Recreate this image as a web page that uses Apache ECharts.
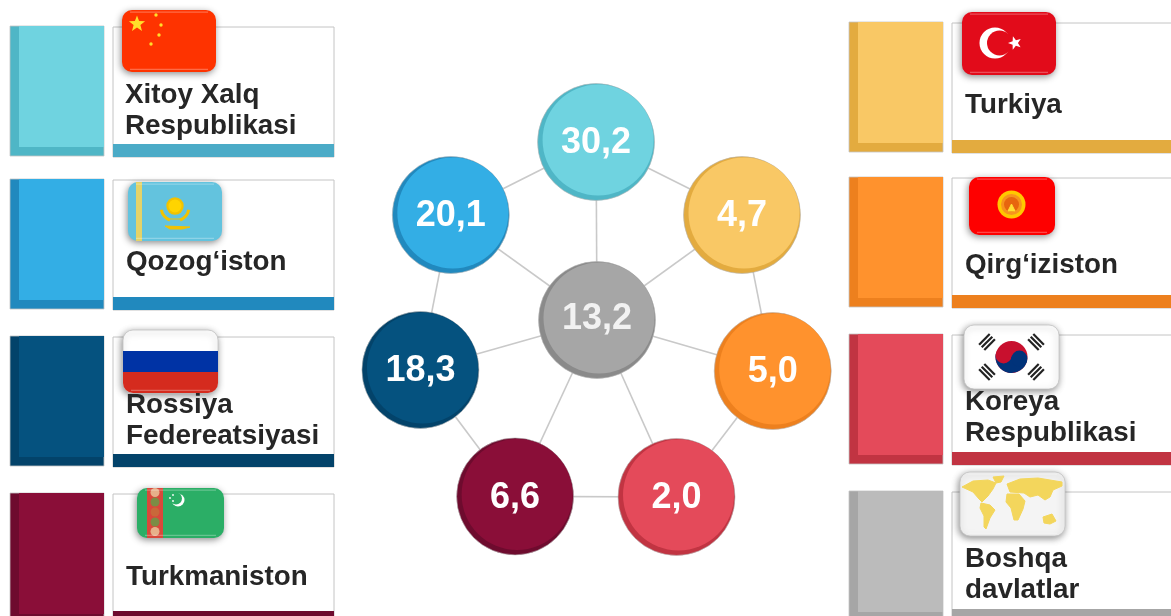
<!DOCTYPE html>
<html>
<head>
<meta charset="utf-8">
<style>
  html, body { margin: 0; padding: 0; background: #fff; }
  #chart { width: 1171px; height: 616px; }
</style>
<script src="https://cdn.jsdelivr.net/npm/echarts@6/dist/echarts.min.js"></script>
</head>
<body>
<div id="chart"></div>
<script>
// ring order, clockwise from the top
const countries = ["Xitoy Xalq\nRespublikasi", "Turkiya", "Qirg‘iziston", "Koreya\nRespublikasi", "Turkmaniston", "Rossiya\nFedereatsiyasi", "Qozog‘iston"];
const shares = [30.2, 4.7, 5.0, 2.0, 6.6, 18.3, 20.1];
const otherName = "Boshqa\ndavlatlar";
const otherShare = 13.2;

const faceColors = ["#6fd3e0", "#f9c865", "#ff922d", "#e44a5a", "#8a0e38", "#05527f", "#33aee5"];
const edgeColors = ["#4fb6c6", "#e3ab3f", "#ed801e", "#c13442", "#6e0b2e", "#03436a", "#2189be"];
const stripColors = ["#4babc7", "#e3ab3f", "#ed801e", "#c13442", "#6e0b2e", "#03436a", "#2189be"];

// where each circle sits on the polar scale (the ring is not quite regular)
const ringAngle = [359.7, 54.1, 106.2, 155.8, 204.9, 254.2, 305.7];
const ringRadius = [178, 179, 183, 194, 194.5, 183.5, 180];

const fmt = (v) => v.toFixed(1).replace(".", ",");
const ringCount = countries.length;

// legend cards: [block x, block y, card x, card width, text x, text centre y, flag x, y, w, h, flag name]
const cards = [
  [10, 26, 113, 221, 125, 111, 122, 10, 94, 62, "china"],
  [849, 22, 952, 240, 965, 105, 962, 12, 94, 63, "turkey"],
  [849, 177, 952, 240, 965, 265, 969, 177, 86, 58, "kyrgyz"],
  [849, 334, 952, 240, 965, 418, 964, 325, 95, 64, "korea"],
  [10, 493, 113, 221, 126, 577, 137, 488, 87, 50, "turkmen"],
  [10, 336, 113, 221, 126, 421, 123, 330, 95, 63, "russia"],
  [10, 179, 113, 221, 126, 262, 128, 182, 94, 59, "kazakh"],
];
const otherCard = [849, 491, 952, 240, 965, 575, 960, 472, 105, 64, "world"];

function rect(x, y, width, height, fill, extra) {
  return Object.assign({ type: "rect", shape: { x, y, width, height }, style: { fill } }, extra || {});
}
function circle(cx, cy, r, fill) {
  return { type: "circle", shape: { cx, cy, r }, style: { fill } };
}
function star(cx, cy, r, fill, rot) {
  const pts = [];
  for (let i = 0; i < 10; i++) {
    const a = (rot || 0) - Math.PI / 2 + (i * Math.PI) / 5;
    const rr = i % 2 ? r * 0.42 : r;
    pts.push([cx + rr * Math.cos(a), cy + rr * Math.sin(a)]);
  }
  return { type: "polygon", shape: { points: pts }, style: { fill } };
}
function poly(points, fill) {
  return { type: "polygon", shape: { points }, style: { fill, stroke: fill, lineWidth: 1, lineJoin: "round" } };
}
// one trigram of the Korean flag
function trigram(cx, cy, rot, dx, dy) {
  return [-1, 0, 1].map((k) => ({
    type: "rect",
    x: cx + k * dx,
    y: cy + k * dy,
    rotation: rot,
    shape: { x: -7.5, y: -1.1, width: 15, height: 2.2 },
    style: { fill: "#222" },
  }));
}

// flag art in local coordinates
const flagArt = {
  china: (w, h) => ({
    base: "#fe3300",
    parts: [
      star(15, 14, 8.5, "#ffdf2a"),
      circle(34, 5, 1.7, "#ffdf2a"), circle(39, 15, 1.7, "#ffdf2a"),
      circle(37, 25, 1.7, "#ffdf2a"), circle(29, 34, 1.7, "#ffdf2a"),
    ],
  }),
  turkey: (w, h) => ({
    base: "#e20b1a",
    parts: [
      circle(33, 31, 15.5, "#fff"), circle(37.5, 31, 12.5, "#e20b1a"),
      star(53, 31, 7, "#fff", -0.3),
    ],
  }),
  kyrgyz: (w, h) => ({
    base: "#fe0000",
    parts: [
      circle(42.5, 27.5, 14, "#ffc800"), circle(42.5, 27.5, 10.5, "#f7941d"),
      circle(42.5, 27.5, 7.5, "#e7660e"),
      poly([[42.5, 27], [46, 34], [39, 34]], "#ffe033"),
    ],
  }),
  korea: (w, h) => ({
    base: "#ffffff",
    parts: [
      circle(47.5, 32, 16, "#c8102e"),
      { type: "sector", shape: { cx: 47.5, cy: 32, r: 16, r0: 0, startAngle: 0.2, endAngle: Math.PI + 0.2 }, style: { fill: "#00337a" } },
      circle(39.6, 30.4, 8, "#c8102e"), circle(55.4, 33.6, 8, "#00337a"),
      ...trigram(23, 17, Math.PI / 4, 2.6, 2.6),
      ...trigram(72, 17, -Math.PI / 4, -2.6, 2.6),
      ...trigram(23, 47, -Math.PI / 4, -2.6, 2.6),
      ...trigram(72, 47, Math.PI / 4, 2.6, 2.6),
    ],
  }),
  turkmen: (w, h) => ({
    base: "#2bae66",
    parts: [
      rect(10, 0, 16, h, "#d9483b"),
      circle(18, 4.5, 4.5, "#e7b08a"), circle(18, 14, 4.5, "#7c8c45"), circle(18, 24, 4.5, "#c9683a"),
      circle(18, 34, 4.5, "#7c8c45"), circle(18, 43.5, 4.5, "#e7b08a"),
      circle(41, 12, 6.5, "#fff"), circle(39, 10.5, 6, "#2bae66"),
      circle(33, 10, 0.9, "#fff"), circle(36, 7, 0.9, "#fff"), circle(36, 13, 0.9, "#fff"),
    ],
  }),
  russia: (w, h) => ({
    base: "#ffffff",
    parts: [
      rect(0, h / 3, w, h / 3, "#0033a5"),
      rect(0, (2 * h) / 3, w, h / 3, "#d52b1e", { shape: { x: 0, y: (2 * h) / 3, width: w, height: h / 3, r: [0, 0, 10, 10] } }),
    ],
  }),
  kazakh: (w, h) => ({
    base: "#63c3de",
    parts: [
      rect(8, 0, 6, h, "#e4d368"),
      circle(47, 24, 8.7, "#f2c200"), circle(47, 24, 6.5, "#ffd400"),
      { type: "arc", shape: { cx: 47, cy: 25, r: 14, startAngle: 0.2, endAngle: 1.2 }, style: { stroke: "#f2c200", lineWidth: 3, fill: "none" } },
      { type: "arc", shape: { cx: 47, cy: 25, r: 14, startAngle: Math.PI - 1.2, endAngle: Math.PI - 0.2 }, style: { stroke: "#f2c200", lineWidth: 3, fill: "none" } },
      { type: "line", shape: { x1: 40, y1: 37, x2: 55, y2: 37 }, style: { stroke: "#f2c200", lineWidth: 1 } },
      poly([[37, 44], [62, 45], [54, 47], [42, 47]], "#f2c200"),
    ],
  }),
  world: (w, h) => ({
    base: "#f4f4f4",
    parts: [
      poly([[2, 15], [13, 9], [28, 8], [36, 11], [33, 17], [28, 24], [22, 30], [19, 27], [13, 20]], "#f3d65c"),
      poly([[33, 5], [44, 4], [41, 10], [36, 11]], "#f3d65c"),
      poly([[21, 31], [30, 33], [35, 38], [30, 46], [26, 57], [24, 55], [24, 44], [20, 36]], "#f3d65c"),
      poly([[47, 12], [60, 7], [78, 6], [102, 10], [102, 14], [93, 18], [90, 25], [85, 28], [78, 23], [70, 25], [64, 21], [50, 20]], "#f3d65c"),
      poly([[47, 22], [59, 22], [65, 29], [63, 37], [58, 48], [54, 48], [51, 36], [46, 30]], "#f3d65c"),
      poly([[83, 45], [92, 42], [96, 49], [90, 52], [84, 51]], "#f3d65c"),
    ],
  }),
};

function flag(x, y, w, h, name) {
  const art = flagArt[name](w, h);
  const r = 10;
  const pale = art.base === "#ffffff" || art.base === "#f4f4f4";
  return {
    type: "group",
    x, y,
    z: 5,
    children: [
      { type: "rect", shape: { x: 0, y: 0, width: w, height: h, r }, style: { fill: art.base, stroke: pale ? "#c4c4c4" : null, lineWidth: 0.8, shadowBlur: 7, shadowColor: "rgba(0,0,0,0.45)", shadowOffsetY: 2, shadowOffsetX: -1 } },
      ...art.parts,
      rect(8, 1.5, w - 16, 1.3, "rgba(255,255,255,0.28)"),
      rect(8, h - 3.2, w - 16, 1.3, "rgba(255,255,255,0.28)"),
    ],
  };
}

function card(c, label, face, edge, stripColor) {
  const [bx, by, cx, cw, tx, ty, fx, fy, fw, fh, fname] = c;
  const blockW = 94, blockH = 130, strip = 13, bevel = 9;
  return [
    rect(bx, by, blockW, blockH, edge, { style: { fill: edge, stroke: "#c4c4c4", lineWidth: 0.8 } }),
    rect(bx + bevel, by, blockW - bevel, blockH - bevel, face),
    rect(cx, by + 1, cw, blockH, "#fff", { style: { fill: "#fff", stroke: "#c4c4c4", lineWidth: 1 } }),
    rect(cx, by + 1 + blockH - strip, cw, strip, stripColor),
    {
      type: "text", x: tx, y: ty, z: 4,
      style: { text: label, fontFamily: "Liberation Sans", fontWeight: "bold", fontSize: 27.8, lineHeight: 31, fill: "#262626", align: "left", verticalAlign: "middle" },
    },
    flag(fx, fy, fw, fh, fname),
  ];
}

const graphicEls = [];
countries.forEach((name, i) => {
  graphicEls.push(...card(cards[i], name, faceColors[i], edgeColors[i], stripColors[i]));
});
graphicEls.push(...card(otherCard, otherName, "#bbbbbb", "#a6a6a6", "#a6a6a6"));

// node 0 is the centre (radius 0), the rest sit on the ring
const nodeData = [{ name: otherName, value: [0, 0], itemStyle: { color: "#8a8a8a" } }].concat(
  countries.map((name, i) => ({ name, value: [ringRadius[i], ringAngle[i]], itemStyle: { color: edgeColors[i] } }))
);
const links = [];
countries.forEach((_, i) => {
  links.push({ source: 0, target: i + 1 });
  links.push({ source: i + 1, target: ((i + 1) % ringCount) + 1 });
});
const faceData = [{ value: [0, 0], itemStyle: { color: "#a6a6a6" }, label: { formatter: fmt(otherShare), color: "#f2f2f2", offset: [-2, 1] } }].concat(
  shares.map((v, i) => ({ value: [ringRadius[i], ringAngle[i]], itemStyle: { color: faceColors[i] }, label: { formatter: fmt(v) } }))
);

const myChart = echarts.init(document.getElementById("chart"), null, { renderer: "canvas" });
myChart.setOption({
  animation: false,
  backgroundColor: "#fff",
  polar: { center: [597, 320], radius: 200 },
  angleAxis: { type: "value", min: 0, max: 360, startAngle: 90, clockwise: true, show: false },
  radiusAxis: { type: "value", min: 0, max: 200, show: false },
  graphic: { elements: graphicEls },
  series: [
    {
      type: "graph",
      coordinateSystem: "polar",
      layout: "none",
      symbol: "circle",
      symbolSize: 117,
      silent: true,
      z: 2,
      itemStyle: { borderColor: "#b5b5b5", borderWidth: 0.6 },
      lineStyle: { color: "#c9c9c9", width: 1.6, opacity: 1 },
      label: { show: false },
      data: nodeData,
      links: links,
    },
    {
      type: "scatter",
      coordinateSystem: "polar",
      symbol: "circle",
      symbolSize: 111,
      symbolOffset: [2, -2],
      silent: true,
      z: 3,
      itemStyle: { opacity: 1 },
      label: {
        show: true,
        position: "inside",
        offset: [-2, 3.5],
        color: "#fff",
        fontFamily: "Liberation Sans",
        fontWeight: "bold",
        fontSize: 36,
      },
      data: faceData,
    },
  ],
});
</script>
</body>
</html>
